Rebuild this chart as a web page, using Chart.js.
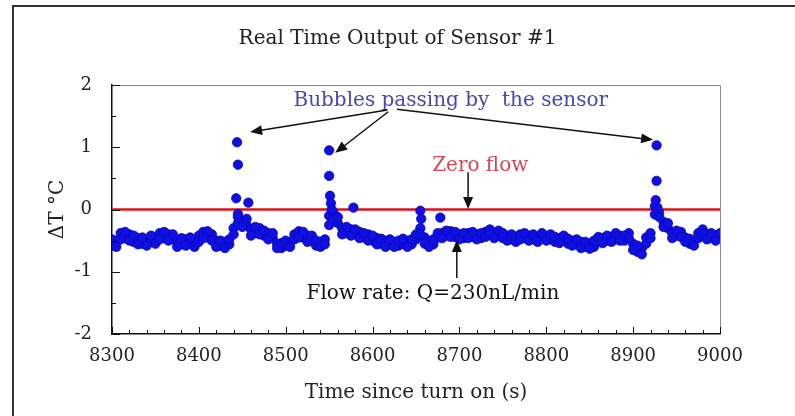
<!DOCTYPE html>
<html>
<head>
<meta charset="utf-8">
<title>Real Time Output of Sensor #1</title>
<script src="https://cdn.jsdelivr.net/npm/chart.js@4/dist/chart.umd.min.js"></script>
<style>
  html, body { margin: 0; padding: 0; background: #fff; }
  canvas { display: block; }
</style>
</head>
<body>
<canvas id="sensorChart" width="795" height="416"></canvas>
<script>
// sensor #1 readings, time in s, dT in degC (two samples per time step)
const readTimes = [
  8300, 8305, 8310, 8315, 8320, 8325, 8330, 8335, 8340, 8345,
  8350, 8355, 8360, 8365, 8370, 8375, 8380, 8385, 8390, 8395,
  8400, 8405, 8410, 8415, 8420, 8425, 8430, 8435, 8440, 8445,
  8450, 8455, 8460, 8465, 8470, 8475, 8480, 8485, 8490, 8495,
  8500, 8505, 8510, 8515, 8520, 8525, 8530, 8535, 8540, 8545,
  8550, 8555, 8560, 8565, 8570, 8575, 8580, 8585, 8590, 8595,
  8600, 8605, 8610, 8615, 8620, 8625, 8630, 8635, 8640, 8645,
  8650, 8655, 8660, 8665, 8670, 8675, 8680, 8685, 8690, 8695,
  8700, 8705, 8710, 8715, 8720, 8725, 8730, 8735, 8740, 8745,
  8750, 8755, 8760, 8765, 8770, 8775, 8780, 8785, 8790, 8795,
  8800, 8805, 8810, 8815, 8820, 8825, 8830, 8835, 8840, 8845,
  8850, 8855, 8860, 8865, 8870, 8875, 8880, 8885, 8890, 8895,
  8900, 8905, 8910, 8915, 8920, 8925, 8930, 8935, 8940, 8945,
  8950, 8955, 8960, 8965, 8970, 8975, 8980, 8985, 8990, 8995,
  9000
];
const readValuesA = [
  -0.58, -0.50, -0.38, -0.46, -0.40, -0.52, -0.46, -0.55, -0.48, -0.52,
  -0.45, -0.38, -0.46, -0.40, -0.48, -0.50, -0.56, -0.48, -0.55, -0.50,
  -0.42, -0.36, -0.45, -0.40, -0.50, -0.58, -0.52, -0.56, -0.30, -0.12,
  -0.18, -0.25, -0.32, -0.38, -0.30, -0.42, -0.38, -0.45, -0.55, -0.62,
  -0.58, -0.52, -0.40, -0.35, -0.45, -0.42, -0.50, -0.58, -0.52, -0.48,
  -0.10, -0.05, -0.22, -0.30, -0.38, -0.32, -0.40, -0.36, -0.45, -0.40,
  -0.50, -0.46, -0.55, -0.50, -0.56, -0.52, -0.58, -0.55, -0.50, -0.56,
  -0.48, -0.30, -0.45, -0.52, -0.56, -0.45, -0.38, -0.42, -0.35, -0.44,
  -0.40, -0.46, -0.38, -0.44, -0.40, -0.46, -0.36, -0.32, -0.38, -0.42,
  -0.46, -0.42, -0.48, -0.44, -0.40, -0.46, -0.42, -0.48, -0.44, -0.46,
  -0.42, -0.48, -0.52, -0.46, -0.50, -0.55, -0.50, -0.56, -0.52, -0.60,
  -0.55, -0.60, -0.52, -0.46, -0.50, -0.44, -0.48, -0.42, -0.50, -0.38,
  -0.55, -0.68, -0.62, -0.45, -0.38, 0.05, -0.05, -0.20, -0.30, -0.38,
  -0.42, -0.36, -0.45, -0.55, -0.50, -0.38, -0.32, -0.40, -0.45, -0.42,
  -0.44
];
const readValuesB = [
  -0.48, -0.60, -0.48, -0.36, -0.50, -0.42, -0.56, -0.45, -0.58, -0.42,
  -0.55, -0.48, -0.36, -0.50, -0.40, -0.60, -0.46, -0.58, -0.45, -0.60,
  -0.52, -0.46, -0.35, -0.50, -0.60, -0.50, -0.62, -0.48, -0.40, -0.22,
  -0.28, -0.15, -0.42, -0.28, -0.40, -0.34, -0.48, -0.38, -0.62, -0.54,
  -0.50, -0.60, -0.48, -0.45, -0.36, -0.52, -0.42, -0.50, -0.60, -0.56,
  -0.25, -0.15, -0.12, -0.40, -0.28, -0.42, -0.32, -0.46, -0.38, -0.50,
  -0.42, -0.56, -0.47, -0.60, -0.48, -0.60, -0.50, -0.47, -0.60, -0.48,
  -0.40, -0.40, -0.55, -0.60, -0.48, -0.38, -0.46, -0.34, -0.44, -0.36,
  -0.48, -0.38, -0.46, -0.36, -0.48, -0.38, -0.44, -0.40, -0.46, -0.34,
  -0.38, -0.50, -0.40, -0.52, -0.48, -0.38, -0.50, -0.40, -0.52, -0.38,
  -0.50, -0.40, -0.44, -0.54, -0.42, -0.47, -0.58, -0.48, -0.62, -0.52,
  -0.63, -0.50, -0.44, -0.54, -0.42, -0.52, -0.38, -0.50, -0.42, -0.46,
  -0.65, -0.58, -0.72, -0.55, -0.46, -0.08, -0.12, -0.28, -0.22, -0.46,
  -0.34, -0.44, -0.52, -0.47, -0.58, -0.46, -0.40, -0.48, -0.38, -0.50,
  -0.38
];

// extra samples taken while a bubble passed
const bubbleTimes = [8444, 8445, 8443, 8445, 8457, 8550, 8550, 8551, 8552, 8553, 8578, 8655, 8656, 8678, 8927, 8927, 8926, 8928];
const bubbleValues = [1.08, 0.72, 0.18, -0.07, 0.11, 0.95, 0.54, 0.22, 0.10, 0.00, 0.03, -0.02, -0.15, -0.13, 1.03, 0.46, 0.15, 0.03];

// zero flow reference line
const zeroTimes = [8300, 9000];
const zeroValues = [0, 0];

const xTicks = { min: 8300, max: 9000, step: 100, minor: 20 };
const yTicks = { min: -2, max: 2, step: 1, minor: 0.5 };

// text notes and arrows, placed in data units
const noteLabels = ['Bubbles passing by  the sensor', 'Zero flow', 'Flow rate: Q=230nL/min'];
const noteColors = ['#4848b0', '#d24a58', '#111111'];
const notePos = [[8690, 1.74], [8724, 0.70], [8524, -1.36]];
const noteAlign = ['center', 'center', 'left'];
const arrowFrom = [[8617, 1.60], [8618, 1.57], [8628, 1.61], [8710, 0.60], [8697, -1.10]];
const arrowTo = [[8459, 1.245], [8557, 0.91], [8923, 1.12], [8710, 0.01], [8697, -0.49]];

const serif = "'DejaVu Serif', serif";

function toXY(times, values) {
  return times.map((t, i) => ({ x: t, y: values[i] }));
}

function drawArrow(ctx, x1, y1, x2, y2) {
  const ang = Math.atan2(y2 - y1, x2 - x1);
  const len = 12, half = 5;
  ctx.beginPath();
  ctx.moveTo(x1, y1);
  ctx.lineTo(x2 - Math.cos(ang) * len * 0.8, y2 - Math.sin(ang) * len * 0.8);
  ctx.stroke();
  ctx.beginPath();
  ctx.moveTo(x2, y2);
  ctx.lineTo(x2 - Math.cos(ang) * len - Math.sin(ang) * half, y2 - Math.sin(ang) * len + Math.cos(ang) * half);
  ctx.lineTo(x2 - Math.cos(ang) * len + Math.sin(ang) * half, y2 - Math.sin(ang) * len - Math.cos(ang) * half);
  ctx.closePath();
  ctx.fill();
}

const decor = {
  id: 'decor',
  afterDraw(chart) {
    const { ctx, chartArea: a, scales: { x, y } } = chart;
    ctx.save();

    // outer frame of the figure
    ctx.strokeStyle = '#333';
    ctx.lineWidth = 2;
    ctx.beginPath();
    ctx.moveTo(13, 416);
    ctx.lineTo(13, 6);
    ctx.lineTo(795, 6);
    ctx.stroke();

    // grey top and right edges of the plot box
    ctx.strokeStyle = '#8a8a8a';
    ctx.lineWidth = 1;
    ctx.beginPath();
    ctx.moveTo(a.left, a.top + 0.5);
    ctx.lineTo(a.right + 0.5, a.top + 0.5);
    ctx.lineTo(a.right + 0.5, a.bottom);
    ctx.stroke();

    // inward ticks
    ctx.strokeStyle = '#111';
    ctx.beginPath();
    for (let v = xTicks.min; v <= xTicks.max; v += xTicks.minor) {
      const px = Math.round(x.getPixelForValue(v)) + 0.5;
      const len = v % xTicks.step === 0 ? 7 : 4;
      ctx.moveTo(px, a.bottom);
      ctx.lineTo(px, a.bottom - len);
    }
    for (let v = yTicks.min; v <= yTicks.max; v += yTicks.minor) {
      const py = Math.round(y.getPixelForValue(v)) + 0.5;
      const len = v % yTicks.step === 0 ? 8 : 4;
      ctx.moveTo(a.left, py);
      ctx.lineTo(a.left + len, py);
    }
    ctx.stroke();

    // notes
    ctx.font = '20px ' + serif;
    ctx.textBaseline = 'middle';
    noteLabels.forEach((txt, i) => {
      ctx.fillStyle = noteColors[i];
      ctx.textAlign = noteAlign[i];
      ctx.fillText(txt, x.getPixelForValue(notePos[i][0]), y.getPixelForValue(notePos[i][1]));
    });

    // arrows
    ctx.strokeStyle = '#111';
    ctx.fillStyle = '#111';
    ctx.lineWidth = 1.5;
    arrowFrom.forEach((f, i) => {
      drawArrow(ctx,
        x.getPixelForValue(f[0]), y.getPixelForValue(f[1]),
        x.getPixelForValue(arrowTo[i][0]), y.getPixelForValue(arrowTo[i][1]));
    });

    ctx.restore();
  }
};

new Chart(document.getElementById('sensorChart'), {
  type: 'scatter',
  data: {
    datasets: [
      {
        label: 'Sensor #1',
        data: toXY(readTimes, readValuesA)
          .concat(toXY(readTimes, readValuesB))
          .concat(toXY(bubbleTimes, bubbleValues)),
        backgroundColor: '#1010e6',
        borderColor: '#0a0aa8',
        borderWidth: 0.8,
        pointRadius: 4.7,
        showLine: false,
        order: 1
      },
      {
        label: 'Zero flow',
        data: toXY(zeroTimes, zeroValues),
        type: 'line',
        borderColor: '#e01010',
        borderWidth: 2.3,
        pointRadius: 0,
        fill: false,
        order: 2
      }
    ]
  },
  options: {
    responsive: false,
    animation: false,
    devicePixelRatio: 1,
    layout: { padding: 0 },
    plugins: {
      legend: { display: false },
      tooltip: { enabled: false },
      title: {
        display: true,
        text: 'Real Time Output of Sensor #1',
        color: '#222',
        font: { family: serif, size: 20, weight: 'normal' },
        padding: { top: 27, bottom: 34 }
      }
    },
    scales: {
      x: {
        type: 'linear',
        position: 'bottom',
        min: xTicks.min,
        max: xTicks.max,
        grid: { display: false },
        border: { display: true, color: '#111', width: 1.5 },
        ticks: {
          stepSize: xTicks.step,
          color: '#222',
          padding: 4,
          font: { family: serif, size: 18 },
          callback: v => String(v)
        },
        title: {
          display: true,
          text: 'Time since turn on (s)',
          color: '#222',
          font: { family: serif, size: 20 },
          padding: { top: 0, bottom: 11 }
        },
        afterFit(scale) { scale.height = 82; }
      },
      y: {
        min: yTicks.min,
        max: yTicks.max,
        grid: { display: false },
        border: { display: true, color: '#111', width: 1.5 },
        ticks: {
          stepSize: yTicks.step,
          color: '#222',
          padding: 12,
          font: { family: serif, size: 18 }
        },
        title: {
          display: true,
          text: 'ΔT °C',
          color: '#222',
          font: { family: serif, size: 20 },
          padding: { top: 46, bottom: 0 }
        },
        afterFit(scale) { scale.width = 112; }
      },
      // empty right-hand axis that only reserves the right margin
      yRight: {
        position: 'right',
        min: yTicks.min,
        max: yTicks.max,
        grid: { display: false },
        border: { display: false },
        ticks: { display: false },
        afterFit(scale) { scale.width = 75; }
      }
    }
  },
  plugins: [decor]
});
</script>
</body>
</html>
